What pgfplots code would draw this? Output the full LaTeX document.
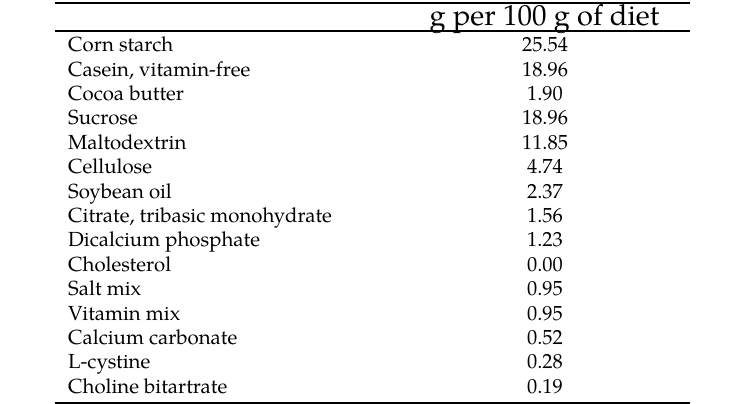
\documentclass[border=0pt]{standalone}
\usepackage{fontspec}
\setmainfont{texgyrepagella}[Extension=.otf, UprightFont=*-regular, BoldFont=*-bold, ItalicFont=*-italic, BoldItalicFont=*-bolditalic]
\usepackage{pgfplots}
\usepackage{pgfplotstable}
\pgfplotsset{compat=1.18}
\pgfplotstableread[col sep=semicolon]{
y;name;val
51.7;Corn starch;25.54
76.1;Casein, vitamin-free;18.96
100.5;Cocoa butter;1.90
124.9;Sucrose;18.96
149.3;Maltodextrin;11.85
173.7;Cellulose;4.74
198.1;Soybean oil;2.37
222.5;Citrate, tribasic monohydrate;1.56
246.9;Dicalcium phosphate;1.23
271.3;Cholesterol;0.00
295.7;Salt mix;0.95
320.1;Vitamin mix;0.95
344.5;Calcium carbonate;0.52
368.9;L-cystine;0.28
393.3;Choline bitartrate;0.19
}\rows
\begin{document}
\begin{tikzpicture}
\begin{axis}[
  scale only axis, width=745pt, height=404pt,
  xmin=0, xmax=745, ymin=0, ymax=404, y dir=reverse,
  hide axis, clip=false,
]
\path (axis cs:0,0) rectangle (axis cs:745,404);
\addplot[black, line width=2pt] coordinates {(55,3) (690,3)};
\addplot[black, line width=1.8pt] coordinates {(55,30.7) (690,30.7)};
\addplot[black, line width=2pt] coordinates {(55,402.5) (690,402.5)};
\addplot[only marks, mark=none, point meta=explicit symbolic, nodes near coords,
  every node near coord/.style={anchor=base west, inner sep=0pt, font=\fontsize{20.4}{24}\selectfont}]
  table[x expr=68, y=y, meta=name] {\rows};
\addplot[only marks, mark=none, point meta=explicit symbolic, nodes near coords,
  every node near coord/.style={anchor=base, inner sep=0pt, font=\fontsize{20.4}{24}\selectfont}]
  table[x expr=545, y=y, meta=val] {\rows};
\addplot[only marks, mark=none, point meta=explicit symbolic, nodes near coords,
  every node near coord/.style={anchor=base, inner sep=0pt, font=\fontsize{29}{32}\selectfont}]
  coordinates {(544.5,25.5) [g per 100 g of diet]};
\end{axis}
\end{tikzpicture}
\end{document}
